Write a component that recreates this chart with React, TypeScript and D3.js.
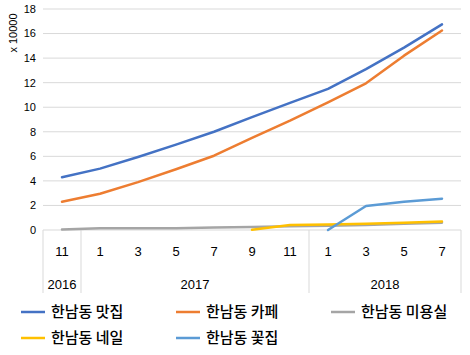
import React from "react";
import * as d3 from "d3";

const months = ["11", "1", "3", "5", "7", "9", "11", "1", "3", "5", "7"];
const years = [
  { label: "2016", start: 0, end: 1 },
  { label: "2017", start: 1, end: 7 },
  { label: "2018", start: 7, end: 11 },
];
const yTicks = [0, 2, 4, 6, 8, 10, 12, 14, 16, 18];

const restaurant = [4.3, 5.0, 5.95, 6.95, 8.0, 9.2, 10.35, 11.5, 13.1, 14.85, 16.75];
const cafe = [2.3, 2.95, 3.9, 4.95, 6.05, 7.5, 8.9, 10.4, 11.95, 14.2, 16.25];
const salon = [0.05, 0.15, 0.15, 0.15, 0.2, 0.25, 0.3, 0.35, 0.4, 0.5, 0.6];
const nail: (number | null)[] = [null, null, null, null, null, 0.02, 0.4, 0.45, 0.5, 0.6, 0.7];
const flower: (number | null)[] = [null, null, null, null, null, null, null, 0.0, 1.95, 2.3, 2.55];

const series = [
  { name: "한남동 맛집", values: restaurant, color: "#4472C4" },
  { name: "한남동 카페", values: cafe, color: "#ED7D31" },
  { name: "한남동 미용실", values: salon, color: "#A5A5A5" },
  { name: "한남동 네일", values: nail, color: "#FFC000" },
  { name: "한남동 꽃집", values: flower, color: "#5B9BD5" },
];

const W = 470, H = 355;
const left = 43, right = 461, top = 9, bottom = 230;

export default function App() {
  const x = d3.scaleBand<number>().domain(d3.range(months.length)).range([left, right]);
  const y = d3.scaleLinear().domain([0, 18]).range([bottom, top]);
  const cx = (i: number) => (x(i) as number) + x.bandwidth() / 2;
  const line = d3
    .line<number | null>()
    .defined((d) => d !== null)
    .x((_, i) => cx(i))
    .y((d) => y(d as number));
  const font = "'Noto Sans CJK KR', 'Noto Sans', sans-serif";
  const tickFont = "'Liberation Sans', 'Noto Sans', sans-serif";
  const legendPos = [
    { x: 21, y: 312 },
    { x: 176, y: 312 },
    { x: 331, y: 312 },
    { x: 21, y: 338 },
    { x: 176, y: 338 },
  ];
  const boundaries = [0, 1, 7, 11];
  const bx = (i: number) => (i < months.length ? (x(i) as number) : right);
  return (
    <svg width={W} height={H} style={{ position: "absolute", left: 0, top: 0, background: "#fff" }}>
      {yTicks.map((t) => (
        <g key={t}>
          <line x1={left} x2={right} y1={y(t)} y2={y(t)} stroke="#d9d9d9" strokeWidth={1} />
          <text x={36} y={y(t)} dy="0.35em" textAnchor="end" fontSize={11} fontFamily={tickFont} fill="#000">
            {t}
          </text>
        </g>
      ))}
      <text
        transform={`translate(13,33) rotate(-90)`}
        textAnchor="middle"
        fontSize={11}
        fontFamily={tickFont}
        dy="0.35em"
      >
        x 10000
      </text>
      {boundaries.map((b) => (
        <line key={b} x1={bx(b)} x2={bx(b)} y1={bottom} y2={293} stroke="#d9d9d9" strokeWidth={1} />
      ))}
      {months.map((m, i) => (
        <text key={i} x={cx(i)} y={256} textAnchor="middle" fontSize={13} fontFamily={tickFont}>
          {m}
        </text>
      ))}
      {years.map((yr) => (
        <text
          key={yr.label}
          x={(bx(yr.start) + bx(yr.end)) / 2}
          y={289}
          textAnchor="middle"
          fontSize={13}
          fontFamily={tickFont}
        >
          {yr.label}
        </text>
      ))}
      {series.map((s) => (
        <path
          key={s.name}
          d={line(s.values) || ""}
          fill="none"
          stroke={s.color}
          strokeWidth={2.5}
          strokeLinejoin="round"
          strokeLinecap="round"
        />
      ))}
      {series.map((s, i) => (
        <g key={s.name} transform={`translate(${legendPos[i].x},${legendPos[i].y})`}>
          <line x1={0} x2={24} y1={0} y2={0} stroke={s.color} strokeWidth={2.5} />
          <text x={30} y={0} dy="0.35em" fontSize={15} fontWeight={500} fontFamily={font}>
            {s.name}
          </text>
        </g>
      ))}
    </svg>
  );
}
